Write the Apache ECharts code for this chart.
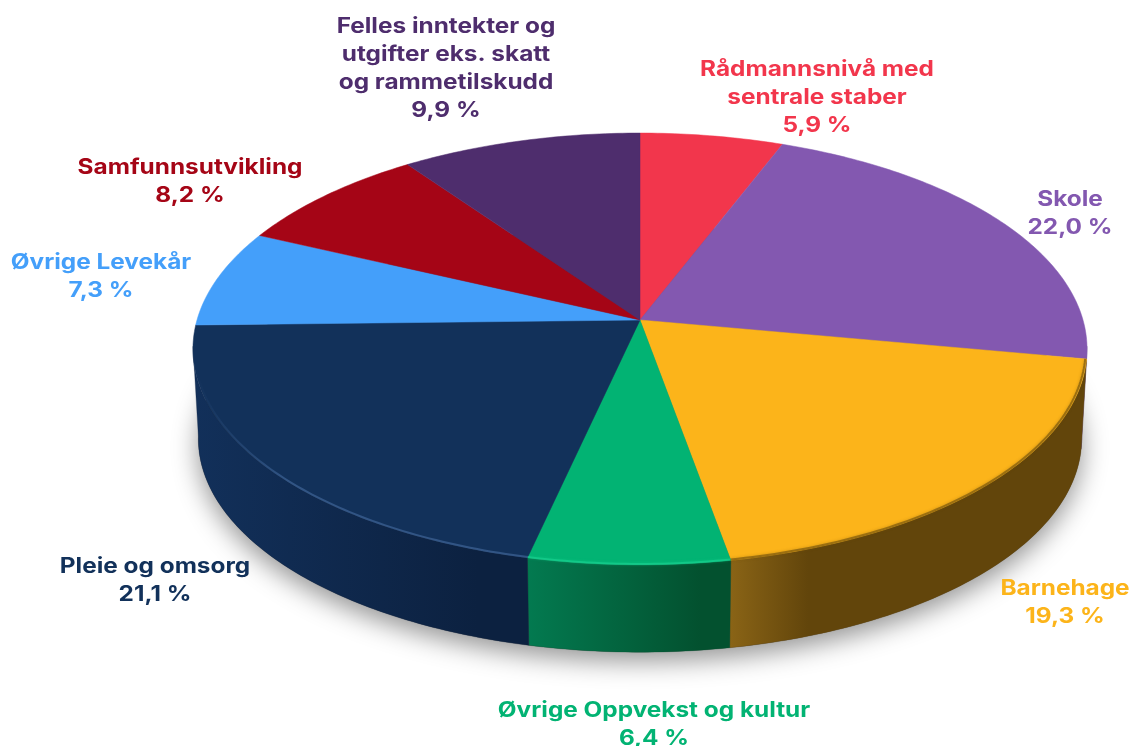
<!DOCTYPE html>
<html><head><meta charset="utf-8">
<style>html,body{margin:0;padding:0;background:#fff}#c{width:1132px;height:746px;filter:blur(0.5px)}</style>
<script src="https://cdn.jsdelivr.net/npm/echarts@6/dist/echarts.min.js"></script>
</head><body><div id="c"></div>
<script>
// Data, clockwise from the top of the pie
const categories = ['Rådmannsnivå med\nsentrale staber','Skole','Barnehage','Øvrige Oppvekst og kultur','Pleie og omsorg','Øvrige Levekår','Samfunnsutvikling','Felles inntekter og\nutgifter eks. skatt\nog rammetilskudd'];
const shares = [5.9,22.0,19.3,6.4,21.1,7.3,8.2,9.9];

// Styles
const topColors = ['#f2364c','#8358b0','#fcb41a','#02b373','#12315a','#449ffa','#a50516','#4e2d6d'];
const labelColors = topColors;
const sideLeft = ['#a02030','#5a3a85','#8a6416','#037a50','#12305a','#2a6ab0','#700310','#341e4a'];
const sideRight = ['#a02030','#46296e','#62450b','#03512f','#0c2140','#2a6ab0','#700310','#341e4a'];
const rimColors = [null,null,'rgba(110,78,12,.6)','rgba(30,215,150,.55)','rgba(80,120,175,.5)',null,null,null];
const labelCentres = [[817,98],[1070,214],[1065,603],[654,725],[155,581],[101,277],[190,182],[446,69]];

// Projection of the tilted disc
const view = {cx:640, cy:320, rx:443, ry:212, k:0.134, depth:90, shrink:0.988, fontSize:21, lineHeight:28, textStretch:1.16};
const total = shares.reduce((a,b)=>a+b,0);
const toAngle = s => s/total*Math.PI*2;
function startOf(i){let s=0;for(let j=0;j<i;j++)s+=shares[j];return toAngle(s);}
function topPoint(a,r){r=r==null?1:r;const u=Math.sin(a)*r,v=-Math.cos(a)*r,w=1-view.k*v;
  return [view.cx+view.rx*u/w, view.cy+view.ry*v/w];}
function bottomPoint(a){const p=topPoint(a);const c=topPoint(Math.PI*0.54);
  return [view.cx+(p[0]-view.cx)*view.shrink, c[1]+(p[1]-c[1])*view.shrink+view.depth];}
function arc(a0,a1,fn,r){const n=Math.max(2,Math.ceil((a1-a0)/0.015)),o=[];
  for(let i=0;i<=n;i++)o.push(fn(a0+(a1-a0)*i/n,r));return o;}
const sideMin=97*Math.PI/180, sideMax=263*Math.PI/180;
const rimMin=99*Math.PI/180, rimMax=258*Math.PI/180;

function renderSide(params,api){
  const i=params.dataIndex, a0=startOf(i), a1=a0+toAngle(api.value(0));
  const from=Math.max(a0,sideMin), to=Math.min(a1,sideMax);
  const children=[];
  if(i===0){
    children.push({type:'polygon',z2:-1,shape:{points:arc(0,Math.PI*2,bottomPoint)},
      style:{fill:'#555',shadowColor:'rgba(0,0,0,.42)',shadowBlur:26,shadowOffsetY:9}});
  }
  if(to>from){
    const t=arc(from,to,topPoint), b=arc(from,to,bottomPoint);
    const xs=t.concat(b).map(p=>p[0]);
    const x0=Math.min(...xs), x1=Math.max(...xs);
    const mid=i===2?0.22:0.85;
    children.push({type:'polygon',shape:{points:t.concat(b.reverse())},
      style:{fill:new echarts.graphic.LinearGradient(x0,0,x1,0,[
        {offset:0,color:sideLeft[i]},{offset:mid,color:sideRight[i]},{offset:1,color:sideRight[i]}],true),
        stroke:sideRight[i],lineWidth:0.3}});
  }
  return {type:'group',children};
}
function renderTop(params,api){
  const i=params.dataIndex, a0=startOf(i), a1=a0+toAngle(api.value(0));
  const pts=[[view.cx,view.cy]].concat(arc(a0,a1,topPoint));
  const children=[{type:'polygon',z2:1,shape:{points:pts},style:{fill:topColors[i],stroke:topColors[i],lineWidth:0.5}}];
  const from=Math.max(a0,rimMin), to=Math.min(a1,rimMax);
  if(to>from&&rimColors[i]){
    const rim=arc(from,to,topPoint,0.997);
    const left=rim[rim.length-1][0];
    // the pale rim of the left-hand slice fades out towards the silhouette
    const stroke=to===rimMax
      ? new echarts.graphic.LinearGradient(left,0,left+90,0,[{offset:0,color:'rgba(80,120,175,0)'},{offset:1,color:rimColors[i]}],true)
      : rimColors[i];
    children.push({type:'polyline',z2:2,shape:{points:rim},
      style:{fill:null,stroke:stroke,lineWidth:2,shadowColor:to===rimMax?'transparent':rimColors[i],shadowBlur:to===rimMax?0:3}});
  }
  const val=api.value(0).toFixed(1).replace('.',',')+' %';
  children.push({type:'text',z2:3,x:labelCentres[i][0],y:labelCentres[i][1],scaleX:view.textStretch,
    style:{text:categories[i]+'\n'+val,x:0,y:0,
    fill:labelColors[i],align:'center',verticalAlign:'middle',fontFamily:'Inter',fontWeight:700,
    fontSize:view.fontSize,lineHeight:view.lineHeight}});
  return {type:'group',children};
}
const seriesData=shares.map((v,i)=>({name:categories[i],value:[v]}));
const chart=echarts.init(document.getElementById('c'),null,{renderer:'canvas'});
chart.setOption({
  animation:false,backgroundColor:'#fff',
  series:[
    {type:'custom',name:'sider',coordinateSystem:'none',z:1,data:seriesData,renderItem:renderSide,silent:true},
    {type:'custom',name:'andeler',coordinateSystem:'none',z:2,data:seriesData,renderItem:renderTop,silent:true}
  ]
});
</script></body></html>
